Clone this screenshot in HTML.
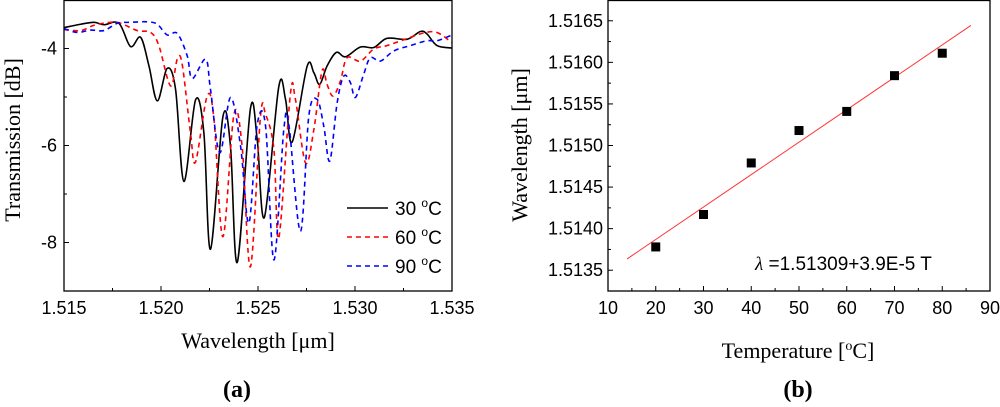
<!DOCTYPE html>
<html><head><meta charset="utf-8"><style>
body{margin:0;background:#fff;}
svg text{font-family:"Liberation Sans",sans-serif;}
.serif{font-family:"Liberation Serif",serif !important;}
</style></head><body>
<svg id="fig" width="1000" height="402" xmlns="http://www.w3.org/2000/svg"></svg>
<script>
// ---- Panel (a) data ----
const blackLam=[1.51500,1.51586,1.51655,1.51706,1.51783,1.51843,1.51895,1.51938,1.51981,1.52032,1.52075,1.52118,1.52178,1.52221,1.52255,1.52319,1.52358,1.52393,1.52461,1.52496,1.52533,1.52607,1.52642,1.52676,1.52753,1.52788,1.52818,1.52856,1.52904,1.52951,1.53028,1.53097,1.53165,1.53268,1.53337,1.53371,1.53423,1.53500];
const blackDb=[-3.57,-3.50,-3.46,-3.51,-3.48,-3.96,-3.77,-4.36,-5.08,-4.41,-4.84,-6.74,-5.06,-5.74,-8.14,-5.41,-6.01,-8.41,-5.24,-5.88,-7.48,-4.79,-5.05,-5.93,-4.37,-4.50,-4.74,-4.36,-4.08,-4.17,-3.97,-3.98,-3.79,-3.81,-3.65,-3.70,-3.94,-3.99];
const redLam=[1.51500,1.51586,1.51655,1.51740,1.51792,1.51878,1.51947,1.51989,1.52049,1.52084,1.52109,1.52152,1.52178,1.52238,1.52273,1.52319,1.52376,1.52418,1.52461,1.52513,1.52539,1.52582,1.52607,1.52667,1.52693,1.52745,1.52788,1.52830,1.52856,1.52887,1.52925,1.52959,1.53028,1.53097,1.53165,1.53251,1.53354,1.53423,1.53500];
const redDb=[-3.61,-3.63,-3.52,-3.46,-3.48,-3.63,-3.67,-3.94,-4.77,-4.22,-4.32,-5.74,-6.34,-4.98,-5.46,-7.88,-5.36,-6.01,-8.50,-5.39,-5.36,-6.08,-7.91,-4.94,-5.05,-6.36,-5.67,-4.46,-4.74,-4.98,-4.67,-4.19,-4.26,-4.01,-3.94,-3.82,-3.68,-3.67,-3.88];
const blueLam=[1.51500,1.51569,1.51637,1.51706,1.51775,1.51843,1.51929,1.51981,1.52032,1.52084,1.52135,1.52161,1.52230,1.52255,1.52303,1.52358,1.52410,1.52453,1.52496,1.52539,1.52582,1.52633,1.52659,1.52719,1.52762,1.52805,1.52839,1.52870,1.52908,1.52942,1.52976,1.53002,1.53045,1.53079,1.53131,1.53200,1.53285,1.53371,1.53423,1.53500];
const blueDb=[-3.59,-3.67,-3.62,-3.63,-3.48,-3.46,-3.45,-3.50,-3.72,-3.69,-4.15,-4.62,-4.22,-4.84,-6.15,-5.01,-6.01,-7.60,-5.57,-5.60,-8.36,-5.67,-5.57,-7.77,-5.39,-5.05,-5.60,-6.32,-5.12,-4.57,-4.70,-5.01,-4.53,-4.19,-4.26,-4.05,-3.94,-3.84,-3.84,-3.72];
const aXTicks=["1.515","1.520","1.525","1.530","1.535"];
const aYTicks=["-4","-6","-8"];
// ---- Panel (b) data ----
const temps=[20,30,40,50,60,70,80];
const waves=[1.51378,1.51417,1.51479,1.51518,1.51541,1.51584,1.51611];
const bXTicks=["10","20","30","40","50","60","70","80","90"];
const bYTicks=["1.5135","1.5140","1.5145","1.5150","1.5155","1.5160","1.5165"];
const fitA=1.51309, fitB=3.9e-5;

const NS="http://www.w3.org/2000/svg";
const svg=document.getElementById('fig');
function mk(tag,attrs,parent){const e=document.createElementNS(NS,tag);for(const k in attrs)e.setAttribute(k,attrs[k]);(parent||svg).appendChild(e);return e;}
function smooth(pts){let d=`M${pts[0][0]},${pts[0][1]}`;for(let i=0;i<pts.length-1;i++){const p0=pts[i-1]||pts[i],p1=pts[i],p2=pts[i+1],p3=pts[i+2]||p2;const c1=[p1[0]+(p2[0]-p0[0])/6,p1[1]+(p2[1]-p0[1])/6],c2=[p2[0]-(p3[0]-p1[0])/6,p2[1]-(p3[1]-p1[1])/6];d+=`C${c1[0]},${c1[1]} ${c2[0]},${c2[1]} ${p2[0]},${p2[1]}`;}return d;}

const TICK=18, TITLE=22;
// Panel (a)
const aL=64,aR=452,aT=0,aB=291;
const ax=v=>aL+(v-1.515)/0.02*(aR-aL);
const ay=v=>aT+(-3-v)/6*(aB-aT);
let g=mk('g',{});


const clip=mk('clipPath',{id:'ca'},g);mk('rect',{x:aL,y:aT,width:aR-aL,height:aB-aT},clip);
const series=[[blackLam,blackDb,'#000','none','series-30c'],[redLam,redDb,'#f00','5,4','series-60c'],[blueLam,blueDb,'#00f','5,4','series-90c']];
series.forEach(s=>{const pts=s[0].map((v,i)=>[ax(v),ay(s[1][i])]);const p=mk('path',{d:smooth(pts),fill:'none',stroke:s[2],'stroke-width':1.6,'stroke-dasharray':s[3],'clip-path':'url(#ca)'},g);

});
const fa=mk('rect',{x:aL,y:aT+0.5,width:aR-aL,height:aB-aT-0.5,fill:'none',stroke:'#000','stroke-width':1.3},g);


for(let i=0;i<=8;i++){const v=1.515+i*0.0025,x=ax(v);mk('line',{x1:x,x2:x,y1:aB,y2:aB-(i%2?3:5),stroke:'#000','stroke-width':1},g);}
aXTicks.forEach(t=>{const x=ax(parseFloat(t));const e=mk('text',{x:x,y:314,'text-anchor':'middle','font-size':TICK},g);e.textContent=t;

});
for(let v=-9;v<=-3;v++){const y=ay(v);mk('line',{x1:aL,x2:aL+(v%2?3:5),y1:y,y2:y,stroke:'#000','stroke-width':1},g);}
aYTicks.forEach(t=>{const y=ay(parseFloat(t));const e=mk('text',{x:57,y:y+6,'text-anchor':'end','font-size':TICK},g);e.textContent=t;

});
let e=mk('text',{x:258,y:348,'text-anchor':'middle','font-size':TITLE,class:'serif'},g);e.textContent='Wavelength [μm]';


e=mk('text',{x:0,y:0,'text-anchor':'middle','font-size':TITLE,class:'serif',transform:'translate(20,140) rotate(-90)'},g);e.textContent='Transmission [dB]';


e=mk('text',{x:237,y:397,'text-anchor':'middle','font-size':24,'font-weight':'bold',class:'serif'},g);e.textContent='(a)';


[['30','#000','none',208],['60','#f00','5,4',237],['90','#00f','5,4',266]].forEach(l=>{
const lg=mk('g',{},g);


mk('line',{x1:347,x2:388,y1:l[3],y2:l[3],stroke:l[1],'stroke-width':1.6,'stroke-dasharray':l[2]},lg);
const t=mk('text',{x:395,y:l[3]+7,'font-size':19},lg);t.innerHTML=l[0]+' <tspan dy="-8" font-size="12">o</tspan><tspan dy="8">C</tspan>';});

// Panel (b)
const bL=608,bR=990,bT=0,bB=291;
const bx=v=>bL+(v-10)/80*(bR-bL);
const by=v=>bB-(v-1.51325)/0.0035*(bB-bT);
g=mk('g',{});


const fl=mk('line',{x1:bx(14),y1:by(fitA+fitB*14),x2:bx(86),y2:by(fitA+fitB*86),stroke:'#f33','stroke-width':1},g);


temps.forEach((t,i)=>{const r=mk('rect',{x:bx(t)-4.5,y:by(waves[i])-4.5,width:9,height:9,fill:'#000'},g);

});
const fb=mk('rect',{x:bL,y:bT+0.5,width:bR-bL,height:bB-bT-0.5,fill:'none',stroke:'#000','stroke-width':1.3},g);


for(let v=10;v<=90;v+=5){const x=bx(v);mk('line',{x1:x,x2:x,y1:bB,y2:bB-(v%10?3:5),stroke:'#000','stroke-width':1},g);}
bXTicks.forEach(t=>{const x=bx(parseFloat(t));const e=mk('text',{x:x,y:314,'text-anchor':'middle','font-size':TICK},g);e.textContent=t;

});
for(let k=0;k<=13;k++){const v=1.5135+k*0.00025,y=by(v);mk('line',{x1:bL,x2:bL+(k%2?3:5),y1:y,y2:y,stroke:'#000','stroke-width':1},g);}
bYTicks.forEach(t=>{const y=by(parseFloat(t));const e=mk('text',{x:603,y:y+6,'text-anchor':'end','font-size':TICK},g);e.textContent=t;

});
e=mk('text',{x:798,y:358,'text-anchor':'middle','font-size':TITLE,class:'serif'},g);e.innerHTML='Temperature [<tspan dy="-8" font-size="14">o</tspan><tspan dy="8">C]</tspan>';


e=mk('text',{x:0,y:0,'text-anchor':'middle','font-size':TITLE,class:'serif',transform:'translate(527,145) rotate(-90)'},g);e.textContent='Wavelength [μm]';


e=mk('text',{x:798,y:397,'text-anchor':'middle','font-size':24,'font-weight':'bold',class:'serif'},g);e.textContent='(b)';


e=mk('text',{x:755,y:270,'font-size':19},g);e.innerHTML='<tspan font-style="italic" class="serif">λ</tspan> =1.51309+3.9E-5 T';


</script>
</body></html>
